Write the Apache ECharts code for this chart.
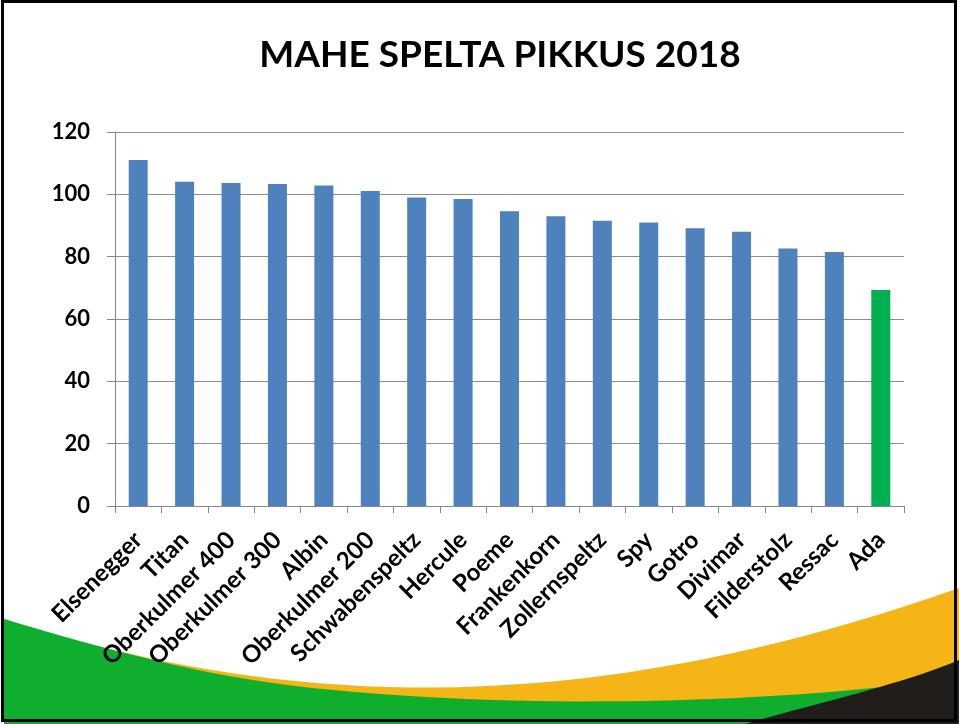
<!DOCTYPE html>
<html>
<head>
<meta charset="utf-8">
<script src="https://cdn.jsdelivr.net/npm/echarts@6/dist/echarts.min.js"></script>
<style>
  html, body { margin: 0; padding: 0; background: #fff; }
  #chart { width: 959px; height: 724px; }
</style>
</head>
<body>
<div id="chart"></div>
<script>
// sorts and their plant height (cm)
const varieties = ['Elsenegger', 'Titan', 'Oberkulmer 400', 'Oberkulmer 300', 'Albin',
  'Oberkulmer 200', 'Schwabenspeltz', 'Hercule', 'Poeme', 'Frankenkorn', 'Zollernspeltz',
  'Spy', 'Gotro', 'Divimar', 'Filderstolz', 'Ressac', 'Ada'];
const heights = [111, 104, 103.6, 103.3, 102.8, 101.1, 99, 98.5, 94.6, 93, 91.5,
  91, 89.1, 88, 82.6, 81.5, 69.3];
const highlighted = ['Ada'];
const yTicks = [0, 20, 40, 60, 80, 100, 120];

const chart = echarts.init(document.getElementById('chart'));
const font = 'Lato, "Open Sans", sans-serif';

// sample a cubic bezier into points for polygon shapes
function cubic(p0, p1, p2, p3, n) {
  const pts = [];
  for (let i = 0; i <= n; i++) {
    const t = i / n, u = 1 - t;
    pts.push([
      u * u * u * p0[0] + 3 * u * u * t * p1[0] + 3 * u * t * t * p2[0] + t * t * t * p3[0],
      u * u * u * p0[1] + 3 * u * u * t * p1[1] + 3 * u * t * t * p2[1] + t * t * t * p3[1]
    ]);
  }
  return pts;
}

const yellowPts = cubic([4, 619], [300, 715], [600, 715], [959, 588], 40)
  .concat([[959, 724], [4, 724]]);
const greenPts = cubic([4, 619], [100, 648], [190, 672], [280, 684], 15)
  .concat(cubic([280, 684], [450, 706], [700, 708], [900, 685], 30).slice(1))
  .concat([[959, 685], [959, 724], [4, 724]]);
const blackPts = cubic([745, 724], [820, 702], [900, 685], [959, 660], 20)
  .concat([[959, 724]]);

const option = {
  backgroundColor: '#fff',
  animation: false,
  title: {
    text: 'MAHE SPELTA PIKKUS 2018',
    left: 495,
    top: 32,
    textAlign: 'center',
    textStyle: { fontFamily: font, fontWeight: 'bold', fontSize: 37, color: '#000' }
  },
  grid: { left: 115, right: 55, top: 132, bottom: 218, containLabel: false },
  xAxis: {
    type: 'category',
    data: varieties,
    axisLine: { lineStyle: { color: '#868686', width: 1 } },
    axisTick: { show: true, length: 7, alignWithLabel: false, lineStyle: { color: '#868686' } },
    axisLabel: {
      interval: 0,
      rotate: 45,
      margin: 30,
      fontFamily: font,
      fontWeight: 'bold',
      fontSize: 24,
      color: '#000'
    }
  },
  yAxis: {
    type: 'value',
    min: yTicks[0],
    max: yTicks[yTicks.length - 1],
    interval: 20,
    axisLine: { show: true, lineStyle: { color: '#868686', width: 1 } },
    axisTick: { show: true, length: 8, lineStyle: { color: '#868686' } },
    axisLabel: { margin: 25, fontFamily: font, fontWeight: 'bold', fontSize: 22, color: '#000' },
    splitLine: { lineStyle: { color: '#8c8c8c', width: 1 } }
  },
  series: [{
    type: 'bar',
    barWidth: 19,
    data: heights.map((v, i) => ({
      value: v,
      itemStyle: { color: highlighted.includes(varieties[i]) ? '#00b050' : '#4f81bd' }
    }))
  }],
  graphic: [
    // decorative swooshes at the bottom of the slide
    { type: 'polygon', z: -10, silent: true, shape: { points: yellowPts }, style: { fill: '#f5b517' } },
    { type: 'polygon', z: -9, silent: true, shape: { points: greenPts }, style: { fill: '#10ae2f' } },
    { type: 'polygon', z: -8, silent: true, shape: { points: blackPts }, style: { fill: '#211d1a' } },
    {
      type: 'rect', z: 100, silent: true,
      shape: { x: 2.5, y: 1.5, width: 953, height: 719 },
      style: { fill: 'none', stroke: '#000', lineWidth: 3 }
    }
  ]
};

chart.setOption(option);
</script>
</body>
</html>
